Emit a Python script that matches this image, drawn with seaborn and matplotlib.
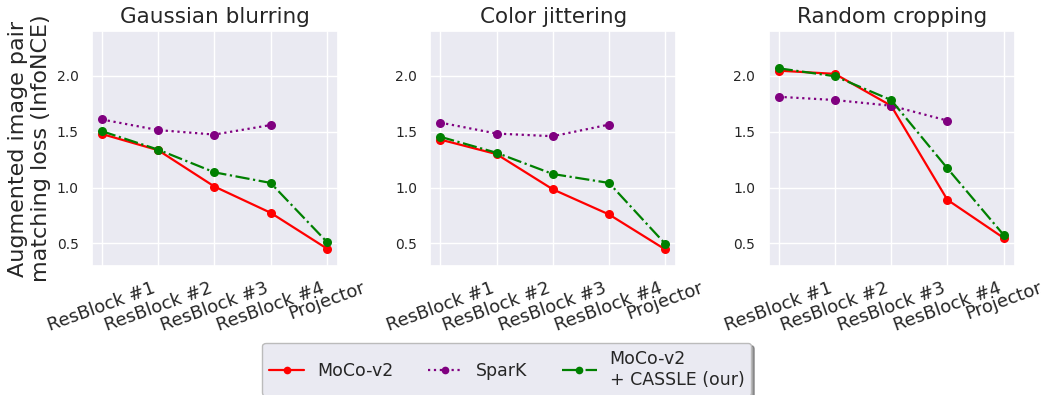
import numpy as np
import pandas as pd
import matplotlib
matplotlib.use("Agg")
import matplotlib.pyplot as plt
import seaborn as sns

layers = ["ResBlock #1", "ResBlock #2", "ResBlock #3", "ResBlock #4", "Projector"]
panels = ["Gaussian blurring", "Color jittering", "Random cropping"]

moco_blur = [1.48, 1.335, 1.01, 0.775, 0.455]
spark_blur = [1.61, 1.515, 1.475, 1.56, np.nan]
cassle_blur = [1.505, 1.34, 1.137, 1.042, 0.515]

moco_color = [1.43, 1.30, 0.985, 0.76, 0.447]
spark_color = [1.582, 1.484, 1.46, 1.564, np.nan]
cassle_color = [1.455, 1.312, 1.122, 1.042, 0.497]

moco_crop = [2.047, 2.018, 1.733, 0.891, 0.55]
spark_crop = [1.813, 1.784, 1.733, 1.60, np.nan]
cassle_crop = [2.068, 1.997, 1.784, 1.173, 0.577]

series_names = ["MoCo-v2", "SparK", "MoCo-v2\n+ CASSLE (our)"]
colors = ["red", "purple", "green"]
styles = ["-", ":", "-."]

data = {
    "Gaussian blurring": [moco_blur, spark_blur, cassle_blur],
    "Color jittering": [moco_color, spark_color, cassle_color],
    "Random cropping": [moco_crop, spark_crop, cassle_crop],
}

sns.set_theme(style="darkgrid")
fig, axes = plt.subplots(1, 3, figsize=(10.43, 3.95), dpi=100, sharey=False)
fig.subplots_adjust(left=0.088, right=0.973, top=0.921, bottom=0.327, wspace=0.374)

for ax, panel in zip(axes, panels):
    xs = np.arange(len(layers))
    for vals, name, c, ls in zip(data[panel], series_names, colors, styles):
        df = pd.DataFrame({"x": xs, "y": vals}).dropna()
        sns.lineplot(data=df, x="x", y="y", ax=ax, color=c, linestyle=ls,
                     marker="o", markersize=6.5, markeredgewidth=0, linewidth=1.6,
                     label=name, legend=False)
    ax.set_ylim(0.3, 2.4)
    ax.set_xlim(-0.18, 4.2)
    ax.set_yticks([0.5, 1.0, 1.5, 2.0])
    ax.set_xticks(xs)
    ax.set_xticklabels(layers, rotation=20, ha="center", fontsize=13)
    ax.tick_params(axis="y", labelsize=10)
    ax.set_title(panel, fontsize=15.5)
    ax.set_xlabel("")
    ax.set_ylabel("")

axes[0].set_ylabel("Augmented image pair\nmatching loss (InfoNCE)", fontsize=16)

h, l = axes[0].get_legend_handles_labels()
leg = fig.legend(h, l, loc="upper center", bbox_to_anchor=(0.486, 0.132), ncol=3,
                 fontsize=12.5, shadow=True, frameon=True, borderaxespad=0,
                 handlelength=2.0, handletextpad=0.75, columnspacing=2.0,
                 markerscale=0.85)
leg.get_frame().set_edgecolor("#bbbbbb")
for t in leg.get_texts():
    t.set_multialignment("left")

fig.savefig("out.png", dpi=100)
